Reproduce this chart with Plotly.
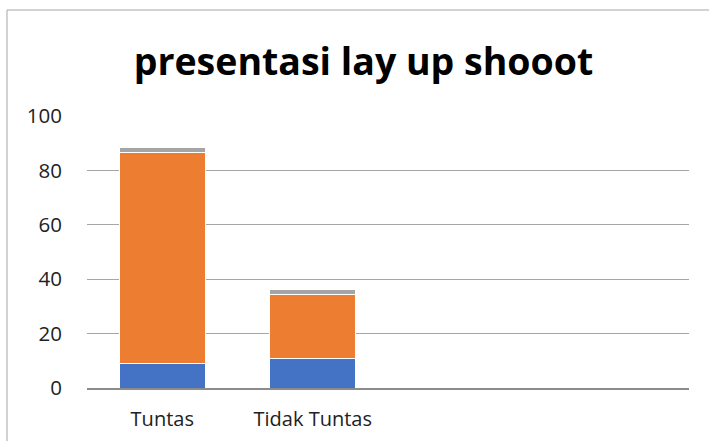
import plotly.graph_objects as go

categories = ["Tuntas", "Tidak Tuntas", "", ""]
series_names = ["Series1", "Series2", "Series3"]
blue_vals = [9, 11]
orange_vals = [77.7, 23.2]
gray_vals = [1.8, 2.0]
colors = ["#4472C4", "#ED7D31", "#A5A5A5"]
y_ticks = [0, 20, 40, 60, 80, 100]

x_pos = list(range(len(blue_vals)))

fig = go.Figure()
for name, vals, col in zip(series_names, [blue_vals, orange_vals, gray_vals], colors):
    fig.add_trace(go.Bar(x=x_pos, y=vals, name=name, marker=dict(color=col, line=dict(color="white", width=1)),
                         width=0.57))

fig.update_layout(
    barmode="stack",
    width=709, height=441,
    margin=dict(l=87, r=20, t=116, b=53),
    paper_bgcolor="white", plot_bgcolor="white",
    showlegend=False,
    font=dict(family="Open Sans", color="#222222"),
    title=dict(text="<b>presentasi lay up shooot</b>", x=363.5/709, xanchor="center",
               y=1-62/441, yanchor="middle", yref="container", xref="container",
               font=dict(size=37.5, color="black", family="Open Sans")),
    xaxis=dict(range=[-0.5, 3.5], tickvals=list(range(len(categories))), ticktext=categories,
               showgrid=False, zeroline=False, showline=True, linecolor="#8c8c8c", linewidth=2,
               ticks="", tickfont=dict(size=20, color="#222222"), ticklabelstandoff=12,
               automargin=False),
    yaxis=dict(range=[0, 100], tickvals=y_ticks, showgrid=True, gridcolor="#a6a6a6", gridwidth=1,
               zeroline=False, showline=False, ticks="", tickfont=dict(size=20.5, color="#222222"),
               ticklabelstandoff=24, automargin=False),
    shapes=[dict(type="line", xref="paper", yref="paper", x0=(7-87)/602, x1=(7-87)/602,
                 y0=-0.3, y1=1+(116-10)/272, line=dict(color="#a6a6a6", width=1)),
            dict(type="line", xref="paper", yref="paper", x0=(7-87)/602, x1=1.2,
                 y0=1+(116-10)/272, y1=1+(116-10)/272, line=dict(color="#a6a6a6", width=1))],
)

fig.write_html("out.html")
